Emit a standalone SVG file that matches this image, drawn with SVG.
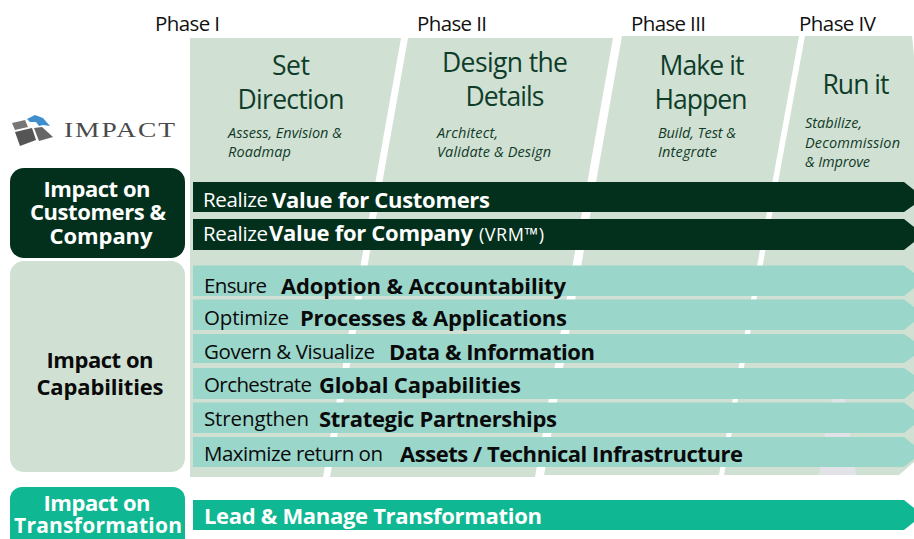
<svg xmlns="http://www.w3.org/2000/svg" width="914" height="539" viewBox="0 0 914 539">
<style>
text{font-family:"Open Sans","Noto Sans","Liberation Sans",sans-serif}
.ph{font-size:20.5px;fill:#111}
.h{font-size:26.5px;fill:#0f3d2a;text-anchor:middle}
.s{font-size:14.500px;font-style:italic;fill:#123a28}
.col{fill:#d0e1d4}
.dk{fill:#03301c}
.tl{fill:#9ad6ca}
.r{font-size:20.5px}
.b{font-size:22px;font-weight:700}
.w{fill:#fff}
.k{fill:#0a0a0a}
.bx{font-size:22px;font-weight:700;text-anchor:middle}
</style>
<rect width="914" height="539" fill="#fff"/>
<g id="phase-columns">
<polygon class="col" points="190,38 401,38 323,477 190,477"/>
<polygon class="col" points="408,38 613,38 535,477 330,477"/>
<polygon class="col" points="622,36 799,36 719,475 544,475"/>
<polygon class="col" points="805,36 912,36 914,55 914,462 899,475 724,475"/>
<polygon points="832,399 845,399 856,475 819,475 825,433" fill="#e2e3e6"/>
</g>
<g id="phase-labels">
<text class="ph" x="155" y="31" textLength="65">Phase I</text>
<text class="ph" x="417" y="31" textLength="70">Phase II</text>
<text class="ph" x="631" y="31" textLength="75">Phase III</text>
<text class="ph" x="799" y="31" textLength="77">Phase IV</text>
</g>
<g id="phase-1"><text class="h" x="291" y="75" textLength="38">Set</text><text class="h" x="291" y="109" textLength="107">Direction</text>
<text class="s" x="228" y="138" textLength="114">Assess, Envision &amp;</text><text class="s" x="228" y="157" textLength="63">Roadmap</text></g>
<g id="phase-2"><text class="h" x="505" y="72" textLength="126">Design the</text><text class="h" x="505" y="106" textLength="79">Details</text>
<text class="s" x="437" y="138" textLength="61">Architect,</text><text class="s" x="437" y="157" textLength="114">Validate &amp; Design</text></g>
<g id="phase-3"><text class="h" x="702" y="75" textLength="85">Make it</text><text class="h" x="701" y="109" textLength="93">Happen</text>
<text class="s" x="658" y="138" textLength="78">Build, Test &amp;</text><text class="s" x="658" y="157" textLength="59">Integrate</text></g>
<g id="phase-4"><text class="h" x="856" y="94" textLength="67">Run it</text>
<text class="s" x="805" y="128" textLength="57">Stabilize,</text><text class="s" x="805" y="148" textLength="95">Decommission</text><text class="s" x="805" y="167" textLength="65">&amp; Improve</text></g>
<g id="logo">
<polygon points="12,123 25,120 28,127 15,130" fill="#777"/>
<polygon points="15,132 32,128 36,140 20,146" fill="#555"/>
<polygon points="34,128 42,127 53,137 39,141" fill="#666"/>
<polygon points="27,119 35,115 43,118 50,126 43,125 39,126 36,122 30,122" fill="#3f8fcf"/>
<text x="64" y="137" font-size="21" letter-spacing="1.500" textLength="113" lengthAdjust="spacingAndGlyphs" style="font-family:'Liberation Serif',serif" fill="#4a4a4a">IMPACT</text>
</g>
<g id="impact-customers"><rect x="10" y="168" width="175" height="90" rx="14" class="dk"/>
<text class="bx w" x="97" y="197" textLength="107">Impact on</text><text class="bx w" x="98" y="220" textLength="136">Customers &amp;</text><text class="bx w" x="101" y="244" textLength="103">Company</text></g>
<g id="impact-capabilities"><rect x="10" y="261" width="175" height="211" rx="14" class="col"/>
<text class="bx k" x="100" y="368" textLength="107">Impact on</text><text class="bx k" x="100" y="395" textLength="127">Capabilities</text></g>
<g id="impact-transformation"><path d="M10,539V499a12,12 0 0 1 12,-12H173a12,12 0 0 1 12,12V539Z" fill="#10b793"/>
<text class="bx w" x="97" y="511" textLength="107">Impact on</text><text class="bx w" x="98" y="533" style="font-size:21px" textLength="168">Transformation</text></g>
<g id="bar-customers"><polygon class="dk" points="193,182 904,182 914,190 914,205 904,212 193,212"/>
<text class="r w" x="203" y="207" textLength="65">Realize</text><text class="b w" x="272" y="208" textLength="218">Value for Customers</text></g>
<g id="bar-company"><polygon class="dk" points="193,219 904,219 914,227 914,242 904,250 193,250"/>
<text class="r w" x="203" y="241" textLength="65">Realize</text><text class="b w" x="269" y="241" textLength="204">Value for Company</text><text class="w" x="479" y="241" font-size="18" textLength="65">(VRM™)</text></g>
<g id="bar-adoption"><polygon class="tl" points="193,265.500 904,265.500 914,273 914,288 904,296 193,296"/>
<text class="r k" x="204" y="292.500" textLength="63">Ensure</text><text class="b k" x="281" y="294" textLength="285">Adoption &amp; Accountability</text></g>
<g id="bar-processes"><polygon class="tl" points="193,299.500 904,299.500 914,307 914,322 904,330 193,330"/>
<text class="r k" x="204" y="325" textLength="85">Optimize</text><text class="b k" x="300" y="326" textLength="267">Processes &amp; Applications</text></g>
<g id="bar-data"><polygon class="tl" points="193,334 904,334 914,341 914,356 904,363 193,363"/>
<text class="r k" x="204" y="359" textLength="171">Govern &amp; Visualize</text><text class="b k" x="389" y="360" textLength="206">Data &amp; Information</text></g>
<g id="bar-global"><polygon class="tl" points="193,368 904,368 914,375 914,391 904,399 193,399"/>
<text class="r k" x="204" y="392" textLength="108">Orchestrate</text><text class="b k" x="319" y="393" textLength="202">Global Capabilities</text></g>
<g id="bar-strategic"><polygon class="tl" points="193,402.500 904,402.500 914,410 914,425 904,433 193,433"/>
<text class="r k" x="204" y="426" textLength="105">Strengthen</text><text class="b k" x="319" y="427" textLength="238">Strategic Partnerships</text></g>
<g id="bar-assets"><polygon class="tl" points="193,437 904,437 914,445 914,459 904,467 193,467"/>
<text class="r k" x="204" y="461" textLength="179">Maximize return on</text><text class="b k" x="400" y="462" textLength="343">Assets / Technical Infrastructure</text></g>
<g id="bar-transformation"><polygon points="193,500 904,500 914,508 914,522 904,530 193,530" fill="#10b793"/>
<text class="b w" x="204" y="524" textLength="338">Lead &amp; Manage Transformation</text></g>
</svg>
